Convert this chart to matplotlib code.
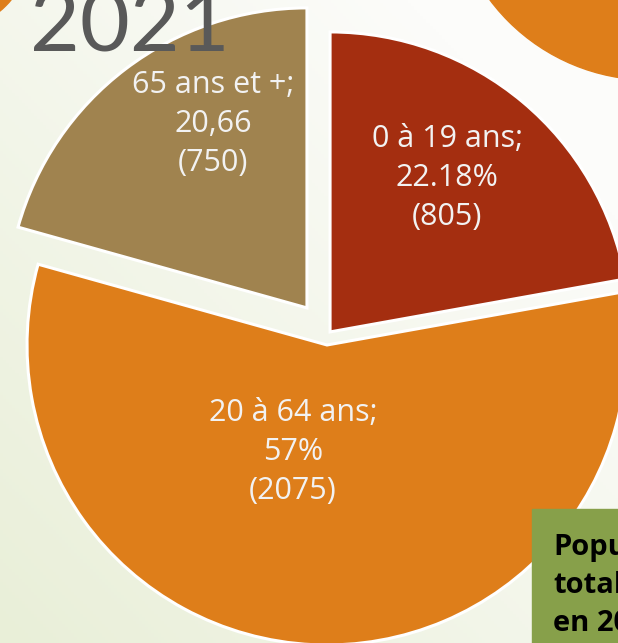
import matplotlib.pyplot as plt
import numpy as np
from matplotlib.colors import LinearSegmentedColormap
from matplotlib.patches import Circle, Rectangle

plt.rcParams['font.family'] = ['Open Sans', 'DejaVu Sans']

# données
groupes = ['0 à 19 ans', '20 à 64 ans', '65 ans et +']
effectifs = [805, 2075, 750]
parts = ['22.18%', '57%', '20,66']
annee = '2021'
encadre = 'Population\ntotale\nen 2021'

couleurs = ['#A42E10', '#DE7E1A', '#A0834F']
ecarts = [4, 10, 34]                          # explode, in px
pos_labels = [(447, 178), (293, 452), (213, 124)]  # px, from top-left

W, H = 618, 643
fig = plt.figure(figsize=(W / 100, H / 100), dpi=100)
ax = fig.add_axes([0, 0, 1, 1])

# background gradient, white top-right to pale green bottom-left
xx, yy = np.meshgrid(np.linspace(0, 1, 200), np.linspace(0, 1, 200))
grad = np.clip(1 - (xx * 0.6 + yy * 0.6), 0, 1)
cmap_bg = LinearSegmentedColormap.from_list('bg', ['#FCFCFA', '#E9EFD8'])
ax.imshow(grad, extent=[0, W, 0, H], origin='lower', cmap=cmap_bg,
          aspect='auto', zorder=0)

# decorative circles of the theme
ax.add_patch(Circle((650, H + 120), 200, color='#DE7E1A', zorder=1))
ax.add_patch(Circle((-60, H + 60), 93, color='#DE7E1A', zorder=1))

ax.pie(effectifs, colors=couleurs, explode=ecarts, radius=300,
       center=(327.5, H - 335), startangle=90, counterclock=False,
       wedgeprops=dict(edgecolor='white', linewidth=2.2, zorder=2))

for g, p, n, (px, py) in zip(groupes, parts, effectifs, pos_labels):
    ax.text(px, H - py, f'{g};\n{p}\n({n})', ha='center', va='center',
            fontsize=22, color='#F2F2F2', linespacing=1.38, zorder=3)

ax.text(30, H + 12, annee, fontsize=62, color='#595959', ha='left',
        va='top', family=['Lato', 'DejaVu Sans'], zorder=4)

ax.add_patch(Rectangle((532, -10), 100, H - 509 + 10, color='#87A04A',
                       zorder=4))
ax.text(553, H - 533, encadre, fontsize=21, fontweight='bold',
        color='black', ha='left', va='top', linespacing=1.4, zorder=5)

ax.set_xlim(0, W)
ax.set_ylim(0, H)
ax.set_aspect('auto')
ax.axis('off')

fig.savefig('out.png', dpi=100)
